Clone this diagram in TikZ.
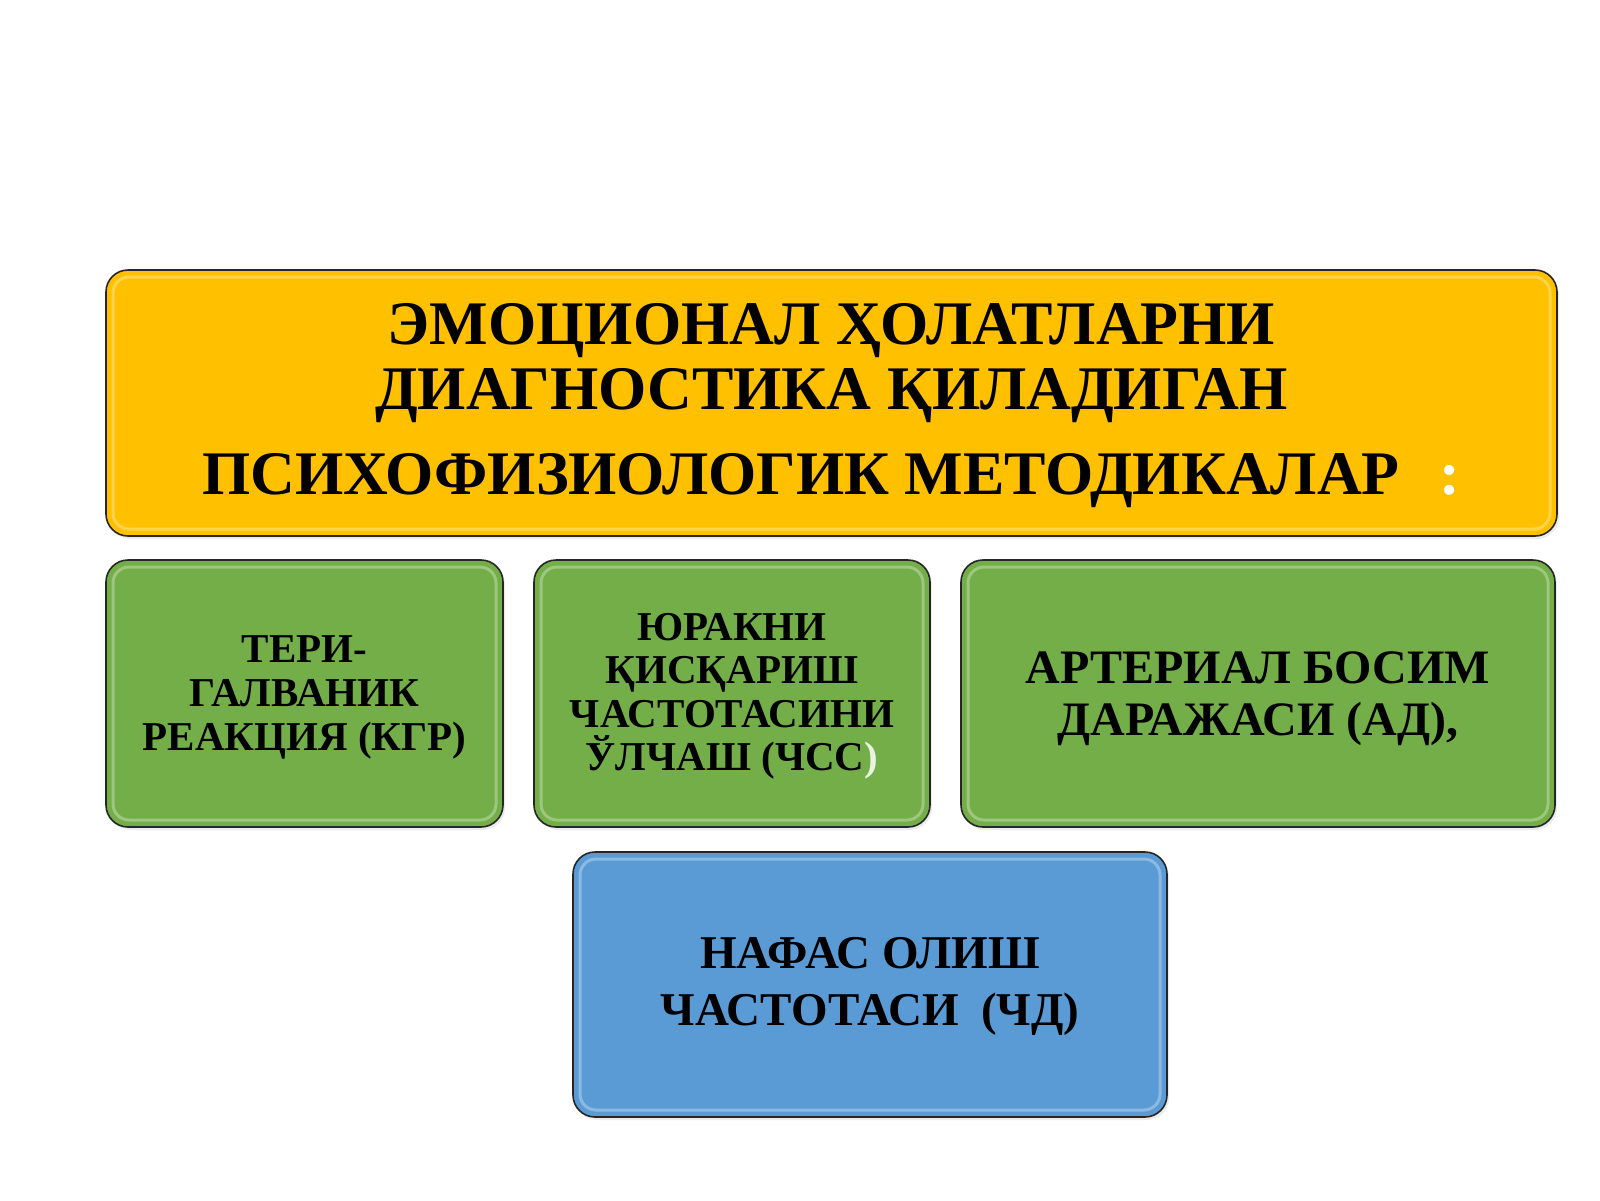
\documentclass[tikz,border=0pt]{standalone}
\usepackage{fontspec}
\setmainfont{Liberation Serif}
\usetikzlibrary{shadows}
\definecolor{gold}{HTML}{FFC000}
\definecolor{leaf}{HTML}{74AE48}
\definecolor{sky}{HTML}{5B9BD5}
\tikzset{
  box/.style={draw=black!85, line width=1.6pt, rounded corners=22pt, inner sep=0pt,
    drop shadow={opacity=0.15, shadow xshift=2pt, shadow yshift=-3pt},
    path picture={\draw[white, opacity=0.3, line width=3pt, rounded corners=16pt]
      ([shift={(7pt,-7pt)}]path picture bounding box.north west) rectangle
      ([shift={(-7pt,7pt)}]path picture bounding box.south east);}},
  txt/.style={align=center, text=black, inner sep=0pt},
}
\begin{document}
\begin{tikzpicture}[x=1pt,y=-1pt]
\fill[white] (0,0) rectangle (1600,1200);
\useasboundingbox (0,0) rectangle (1600,1200);
% boxes
\node[box, fill=gold, minimum width=1451pt, minimum height=266pt] (head) at (831.5,403) {};
\node[box, fill=leaf, minimum width=397pt, minimum height=267pt] (kgr) at (304.5,693.5) {};
\node[box, fill=leaf, minimum width=396pt, minimum height=267pt] (chss) at (732,693.5) {};
\node[box, fill=leaf, minimum width=594pt, minimum height=267pt] (ad) at (1258,693.5) {};
\node[box, fill=sky, minimum width=594pt, minimum height=265pt] (chd) at (870,984.5) {};
% texts
\node[txt, font=\bfseries\fontsize{62}{65}\selectfont] (headt) at ([yshift=-3pt]head.center)
  {ЭМОЦИОНАЛ ҲОЛАТЛАРНИ\\ДИАГНОСТИКА ҚИЛАДИГАН\\[20pt]ПСИХОФИЗИОЛОГИК МЕТОДИКАЛАР\hspace{40pt}{\color{white}:}};
\node[txt, font=\bfseries\fontsize{41}{44}\selectfont] (kgrt) at ([yshift=-4pt]kgr.center)
  {ТЕРИ-\\ГАЛВАНИК\\РЕАКЦИЯ (КГР)};
\node[txt, font=\bfseries\fontsize{41}{43.5}\selectfont] (chsst) at ([yshift=-3pt]chss.center)
  {ЮРАКНИ\\ҚИСҚАРИШ\\ЧАСТОТАСИНИ\\ЎЛЧАШ (ЧСС{\color{white!85!leaf})}};
\node[txt, font=\bfseries\fontsize{48}{52}\selectfont] (adt) at ([yshift=-5pt]ad.center)
  {АРТЕРИАЛ БОСИМ\\ДАРАЖАСИ (АД),};
\node[txt, font=\bfseries\fontsize{47}{57}\selectfont] (chdt) at ([yshift=-2pt]chd.center)
  {НАФАС ОЛИШ\\ЧАСТОТАСИ\hspace{22pt}(ЧД)};
\end{tikzpicture}
\end{document}
